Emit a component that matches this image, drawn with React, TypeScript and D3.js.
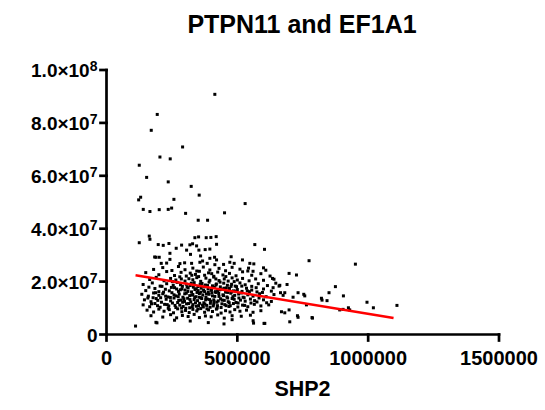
import React from "react";
import * as d3 from "d3";

const title = "PTPN11 and EF1A1";
const xLabel = "SHP2";
const xTicks = [0, 500000, 1000000, 1500000];
const yTicks = [0, 2e7, 4e7, 6e7, 8e7, 1e8];

// regression line (slope, intercept, x-range)
const fitSlope = -16.4;
const fitIntercept = 24.2e6;
const fitRange = [111000, 1097000];

// sparse / outlying points
const outerPoints: [number, number][] = [
  [414000, 90.8e6], [193900, 83.2e6], [171000, 77.2e6], [290800, 70.9e6], [204200, 67.1e6],
  [243500, 66.4e6], [125200, 64.0e6], [153400, 59.4e6], [235900, 57.7e6], [323700, 56.0e6],
  [354200, 52.7e6], [130500, 51.9e6], [122900, 50.9e6], [257600, 51.1e6], [529800, 49.5e6],
  [140500, 47.3e6], [166000, 46.5e6], [201500, 47.2e6], [235900, 47.3e6], [248900, 47.8e6],
  [302300, 45.8e6], [451100, 46.0e6], [350400, 43.2e6], [386300, 43.2e6], [163400, 37.2e6],
  [166000, 36.0e6], [125200, 34.7e6], [337800, 36.6e6], [351900, 36.9e6], [381000, 36.6e6],
  [398900, 36.7e6], [419100, 37.0e6], [197700, 34.0e6], [216800, 33.7e6], [238600, 34.4e6],
  [287000, 33.8e6], [318700, 33.9e6], [329000, 34.3e6], [344300, 33.5e6], [420600, 34.1e6],
  [566800, 34.0e6], [603800, 32.2e6], [266400, 32.6e6], [306100, 31.9e6], [353100, 31.9e6],
  [377100, 32.1e6], [395000, 32.3e6], [242400, 30.7e6], [201500, 29.2e6], [476400, 29.4e6],
  [413000, 29.2e6], [184000, 29.3e6], [189000, 29.2e6], [321000, 30.3e6], [359600, 29.7e6],
  [209200, 26.9e6], [229800, 27.0e6], [280600, 26.8e6], [298500, 27.1e6], [325200, 26.9e6],
  [356900, 27.3e6], [384800, 26.9e6], [414100, 26.4e6], [447400, 26.5e6], [488000, 26.9e6],
  [547800, 26.9e6], [563000, 26.7e6], [242400, 28.4e6], [367200, 27.8e6], [395000, 28.8e6],
  [420600, 28.2e6], [471300, 27.3e6], [519600, 28.2e6], [774100, 27.9e6], [951200, 26.6e6],
  [542800, 25.1e6], [608800, 24.3e6], [697800, 23.1e6], [726000, 22.5e6], [634400, 21.2e6],
  [647000, 19.4e6], [662300, 18.6e6], [636700, 17.7e6], [659500, 18.3e6], [874800, 18.1e6],
  [850400, 15.8e6], [905400, 14.6e6], [732100, 15.8e6], [753900, 15.2e6], [757700, 14.6e6],
  [665000, 15.8e6], [681300, 15.8e6], [675000, 14.8e6], [713000, 14.1e6], [821400, 13.7e6],
  [842800, 12.8e6], [823700, 13.0e6], [764100, 11.2e6], [697800, 9.3e6], [668700, 8.6e6],
  [681300, 8.2e6], [732100, 6.5e6], [787000, 6.2e6], [700400, 4.8e6], [605000, 4.2e6],
  [560300, 5.2e6], [891300, 9.3e6], [903900, 9.5e6], [929400, 9.3e6], [924500, 10.1e6],
  [995500, 12.2e6], [1019900, 10.1e6], [1110000, 11.0e6], [729800, 7.1e6], [785500, 6.4e6],
  [111000, 3.2e6], [192800, 4.4e6], [389000, 4.5e6], [449000, 4.0e6], [562000, 4.3e6],
  [602000, 4.2e6], [189000, 4.6e6],
];

// dense main cluster
const clusterPoints: [number, number][] = [
  [180000, 24.6e6], [215000, 25.3e6], [250000, 24.2e6], [275000, 25.7e6], [300000, 24.5e6],
  [330000, 25.1e6], [345000, 24.0e6], [370000, 25.5e6], [395000, 24.4e6], [430000, 25.0e6],
  [455000, 24.1e6], [480000, 25.4e6], [510000, 24.7e6], [540000, 24.0e6], [560000, 23.9e6],
  [600000, 25.2e6],
  [150000, 23.4e6], [200000, 22.6e6], [230000, 23.8e6], [260000, 22.3e6], [285000, 23.5e6],
  [305000, 22.1e6], [320000, 23.2e6], [340000, 22.7e6], [355000, 23.9e6], [375000, 22.4e6],
  [390000, 23.3e6], [410000, 22.0e6], [425000, 23.6e6], [445000, 22.5e6], [470000, 23.1e6],
  [495000, 22.2e6], [520000, 23.7e6], [555000, 22.4e6], [590000, 23.0e6], [625000, 22.1e6],
  [165000, 20.8e6], [190000, 21.6e6], [220000, 20.3e6], [245000, 21.2e6], [265000, 20.6e6],
  [280000, 21.8e6], [300000, 20.2e6], [315000, 21.1e6], [330000, 20.7e6], [345000, 21.5e6],
  [360000, 20.1e6], [380000, 21.3e6], [395000, 20.5e6], [410000, 21.7e6], [430000, 20.4e6],
  [450000, 21.0e6], [465000, 20.2e6], [480000, 21.4e6], [500000, 20.6e6], [520000, 21.2e6],
  [545000, 20.3e6], [570000, 21.0e6], [600000, 20.5e6], [640000, 20.9e6],
  [140000, 18.9e6], [175000, 19.5e6], [205000, 18.3e6], [230000, 19.2e6], [255000, 18.6e6],
  [270000, 19.7e6], [290000, 18.2e6], [305000, 19.0e6], [320000, 18.5e6], [335000, 19.6e6],
  [350000, 18.1e6], [365000, 19.3e6], [378000, 18.7e6], [392000, 19.8e6], [405000, 18.4e6],
  [420000, 19.1e6], [435000, 18.0e6], [448000, 19.4e6], [462000, 18.6e6], [478000, 19.0e6],
  [492000, 18.3e6], [510000, 19.5e6], [530000, 18.8e6], [555000, 18.2e6], [580000, 19.2e6],
  [615000, 18.5e6], [690000, 18.9e6],
  [150000, 16.6e6], [185000, 17.4e6], [200000, 16.2e6], [225000, 17.1e6], [240000, 16.5e6],
  [260000, 17.7e6], [275000, 16.3e6], [288000, 17.2e6], [300000, 16.8e6], [312000, 17.6e6],
  [325000, 16.1e6], [338000, 17.0e6], [350000, 16.6e6], [362000, 17.5e6], [375000, 16.2e6],
  [388000, 17.3e6], [400000, 16.7e6], [412000, 17.8e6], [425000, 16.4e6], [440000, 17.1e6],
  [455000, 16.0e6], [470000, 17.4e6], [485000, 16.5e6], [500000, 17.0e6], [518000, 16.3e6],
  [535000, 17.5e6], [555000, 16.8e6], [575000, 16.1e6], [600000, 17.2e6], [630000, 16.4e6],
  [135000, 15.2e6], [160000, 14.5e6], [180000, 15.7e6], [200000, 14.8e6], [215000, 15.4e6],
  [235000, 14.2e6], [250000, 15.8e6], [265000, 14.6e6], [278000, 15.3e6], [292000, 14.1e6],
  [305000, 15.6e6], [318000, 14.7e6], [330000, 15.1e6], [342000, 14.3e6], [355000, 15.5e6],
  [368000, 14.9e6], [380000, 14.0e6], [392000, 15.2e6], [405000, 14.6e6], [418000, 15.9e6],
  [430000, 14.4e6], [445000, 15.0e6], [460000, 14.2e6], [475000, 15.6e6], [490000, 14.8e6],
  [505000, 15.3e6], [522000, 14.1e6], [540000, 15.0e6], [560000, 14.5e6], [585000, 15.4e6],
  [610000, 14.3e6], [640000, 15.1e6],
  [145000, 13.1e6], [170000, 12.4e6], [190000, 13.6e6], [210000, 12.2e6], [228000, 13.3e6],
  [245000, 12.7e6], [258000, 13.8e6], [272000, 12.1e6], [285000, 13.0e6], [298000, 12.5e6],
  [310000, 13.7e6], [322000, 12.3e6], [335000, 13.2e6], [348000, 12.8e6], [360000, 13.9e6],
  [372000, 12.0e6], [385000, 13.4e6], [398000, 12.6e6], [410000, 13.1e6], [422000, 12.2e6],
  [436000, 13.5e6], [450000, 12.9e6], [465000, 12.4e6], [480000, 13.6e6], [495000, 12.1e6],
  [512000, 13.0e6], [530000, 12.6e6], [550000, 13.4e6], [575000, 12.3e6], [600000, 13.1e6],
  [630000, 12.5e6],
  [140000, 11.2e6], [165000, 10.5e6], [185000, 11.7e6], [205000, 10.3e6], [222000, 11.4e6],
  [238000, 10.8e6], [252000, 11.9e6], [265000, 10.2e6], [280000, 11.1e6], [293000, 10.6e6],
  [306000, 11.6e6], [318000, 10.1e6], [330000, 11.3e6], [343000, 10.7e6], [356000, 11.8e6],
  [370000, 10.4e6], [383000, 11.0e6], [396000, 10.3e6], [410000, 11.5e6], [424000, 10.9e6],
  [438000, 10.2e6], [452000, 11.3e6], [468000, 10.6e6], [485000, 11.7e6], [502000, 10.4e6],
  [520000, 11.1e6], [540000, 10.5e6], [565000, 11.4e6], [590000, 10.8e6], [620000, 11.2e6],
  [155000, 9.2e6], [180000, 8.5e6], [200000, 9.6e6], [220000, 8.8e6], [240000, 9.4e6],
  [256000, 8.2e6], [272000, 9.7e6], [288000, 8.6e6], [302000, 9.1e6], [316000, 8.3e6],
  [330000, 9.5e6], [345000, 8.9e6], [360000, 9.8e6], [375000, 8.4e6], [390000, 9.3e6],
  [405000, 8.7e6], [420000, 9.6e6], [438000, 8.1e6], [455000, 9.0e6], [472000, 8.5e6],
  [490000, 9.4e6], [510000, 8.8e6], [535000, 9.2e6], [560000, 8.4e6], [590000, 9.0e6],
  [170000, 7.1e6], [215000, 6.6e6], [245000, 7.5e6], [268000, 6.3e6], [290000, 7.2e6],
  [312000, 6.8e6], [335000, 7.6e6], [355000, 6.4e6], [378000, 7.0e6], [400000, 6.7e6],
  [425000, 7.4e6], [450000, 6.2e6], [480000, 7.1e6], [515000, 6.9e6], [550000, 7.3e6],
  [260000, 5.4e6], [320000, 5.1e6], [480000, 5.6e6],
  [258000, 15.0e6], [282000, 16.9e6], [296000, 13.5e6], [308000, 18.0e6], [314000, 11.7e6],
  [326000, 14.9e6], [332000, 17.9e6], [340000, 12.0e6], [346000, 15.9e6], [352000, 10.9e6],
  [358000, 19.0e6], [364000, 13.6e6], [371000, 16.7e6], [376000, 11.5e6], [382000, 15.3e6],
  [386000, 18.5e6], [394000, 13.2e6], [401000, 17.0e6], [408000, 10.8e6], [414000, 14.4e6],
  [418000, 18.7e6], [427000, 12.7e6], [433000, 16.9e6], [441000, 11.6e6], [447000, 14.7e6],
  [458000, 17.6e6], [463000, 13.8e6], [473000, 10.9e6], [478000, 16.1e6], [488000, 13.3e6],
  [497000, 18.1e6], [503000, 11.9e6], [515000, 15.7e6], [526000, 13.9e6], [546000, 16.2e6],
  [566000, 12.8e6], [287000, 10.0e6], [276000, 12.9e6], [268000, 17.2e6], [244000, 14.0e6],
  [232000, 11.3e6], [218000, 16.0e6], [207000, 13.9e6], [195000, 10.9e6], [178000, 13.9e6],
  [162000, 17.9e6], [252000, 20.0e6], [326000, 22.4e6], [402000, 23.0e6], [456000, 21.9e6],
  [262000, 11.0e6], [274000, 14.3e6], [283000, 18.8e6], [291000, 12.2e6], [299000, 15.4e6],
  [303000, 9.9e6], [311000, 16.3e6], [319000, 13.2e6], [324000, 19.4e6], [328000, 10.5e6],
  [337000, 14.0e6], [343000, 17.3e6], [349000, 9.6e6], [354000, 14.1e6], [361000, 16.0e6],
  [367000, 11.1e6], [373000, 18.0e6], [379000, 13.1e6], [384000, 9.7e6], [389000, 16.0e6],
  [397000, 11.8e6], [403000, 15.8e6], [411000, 12.4e6], [416000, 16.2e6], [423000, 10.0e6],
  [429000, 15.5e6], [434000, 19.8e6], [442000, 13.0e6], [449000, 17.5e6], [457000, 10.9e6],
  [464000, 15.9e6], [469000, 12.0e6], [476000, 18.2e6], [483000, 14.3e6], [494000, 16.4e6],
  [506000, 13.8e6], [517000, 18.3e6], [528000, 11.0e6], [538000, 16.5e6], [552000, 11.9e6],
  [572000, 17.7e6], [583000, 13.8e6], [596000, 15.9e6], [612000, 12.0e6], [226000, 14.5e6],
  [212000, 18.2e6], [196000, 12.9e6], [188000, 15.8e6], [172000, 11.6e6], [158000, 13.8e6],
  [236000, 9.9e6], [248000, 17.8e6], [286000, 21.0e6], [352000, 21.9e6], [418000, 21.0e6],
  [488000, 20.0e6],
];

const FONT = "Arial, 'Liberation Sans', sans-serif";

export default function App() {
  const W = 545, H = 410;
  const x = d3.scaleLinear().domain([0, 1500000]).range([106.5, 499]);
  const y = d3.scaleLinear().domain([0, 1e8]).range([334.5, 70]);
  const pts = [...clusterPoints, ...outerPoints];
  const fitLine = d3.line<number>()
    .x((v) => x(v))
    .y((v) => y(fitIntercept + fitSlope * v));
  const sz = 3;

  const yLabel = (v: number) => {
    if (v === 0) return <tspan>0</tspan>;
    const e = Math.floor(Math.log10(v));
    const m = (v / Math.pow(10, e)).toFixed(1);
    return (
      <>
        <tspan>{m + "\u00d710"}</tspan>
        <tspan fontSize={14} dy={-6}>{String(e)}</tspan>
      </>
    );
  };

  return (
    <svg width={W} height={H} style={{ position: "absolute", left: 0, top: 0, background: "#fff" }} fontFamily={FONT}>
      <text x={302} y={33} textAnchor="middle" fontSize={25} fontWeight="bold">{title}</text>

      {/* points */}
      <g fill="#000">
        {pts.map((p, i) => (
          <rect key={i} x={x(p[0]) - sz / 2} y={y(p[1]) - sz / 2} width={sz} height={sz} />
        ))}
      </g>

      {/* fit line */}
      <path d={fitLine(fitRange) || ""} stroke="#ff0000" strokeWidth={2.6} fill="none" />

      {/* axes */}
      <g stroke="#000" strokeWidth={2.7} fill="none" strokeLinecap="square">
        <line x1={x(0)} x2={x(1500000)} y1={y(0)} y2={y(0)} />
        <line x1={x(0)} x2={x(0)} y1={y(0)} y2={y(1e8)} />
        {xTicks.map((t) => (
          <line key={"xt" + t} x1={x(t)} x2={x(t)} y1={y(0)} y2={y(0) + 6} />
        ))}
        {yTicks.map((t) => (
          <line key={"yt" + t} x1={x(0)} x2={x(0) - 6} y1={y(t)} y2={y(t)} />
        ))}
      </g>

      {xTicks.map((t) => (
        <text key={"xl" + t} x={x(t)} y={365} textAnchor="middle" fontSize={20} fontWeight="bold">{String(t)}</text>
      ))}
      {yTicks.map((t) => (
        <text key={"yl" + t} x={97.5} y={y(t) + 7} textAnchor="end" fontSize={19} fontWeight="bold">{yLabel(t)}</text>
      ))}

      <text x={302.5} y={396} textAnchor="middle" fontSize={21.5} fontWeight="bold">{xLabel}</text>
    </svg>
  );
}
